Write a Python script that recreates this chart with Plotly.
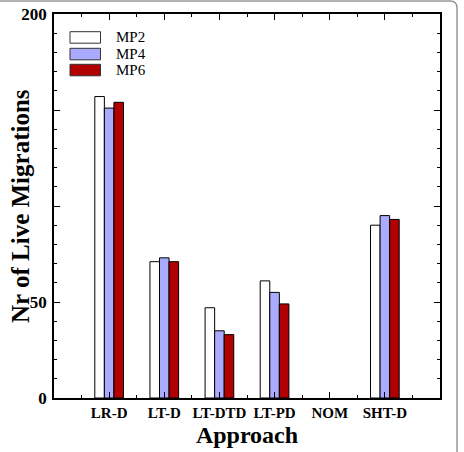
import plotly.graph_objects as go

categories = ["LR-D", "LT-D", "LT-DTD", "LT-PD", "NOM", "SHT-D"]
mp2 = [157, 71, 47, 61, 0, 90]
mp4 = [151, 73, 35, 55, 0, 95]
mp6 = [154, 71, 33, 49, 0, 93]
series_names = ["MP2", "MP4", "MP6"]
series_colors = ["#ffffff", "#aaaaff", "#b00000"]
y_tickvals = [0, 50, 100, 150, 200]
y_ticktext = ["0", "50", "", "", "200"]

W, H = 464, 452
ML, MR, MT, MB = 54, 24, 14, 54
PW, PH = W - ML - MR, H - MT - MB
FONT = "Liberation Serif"


def px(x):
    return (x - ML) / PW


def py(y):
    return (H - MB - y) / PH


xpos = list(range(len(categories)))
fig = go.Figure()
for name, vals, col in zip(series_names, [mp2, mp4, mp6], series_colors):
    fig.add_trace(go.Bar(x=xpos, y=vals, name=name,
                         marker=dict(color=col, line=dict(color="black", width=[1 if v > 0 else 0 for v in vals])),
                         showlegend=False))

fig.update_layout(
    width=W, height=H,
    margin=dict(l=ML, r=MR, t=MT, b=MB),
    paper_bgcolor="white", plot_bgcolor="white",
    barmode="group", bargap=0.48, bargroupgap=0,
    font=dict(family=FONT, color="black"),
)
fig.update_xaxes(
    range=[-1, len(categories)], tickvals=xpos, ticktext=categories,
    tickfont=dict(size=15, weight="bold", family=FONT),
    ticks="inside", ticklen=6, tickwidth=1, tickcolor="black",
    minor=dict(tickvals=[i - 0.5 for i in range(len(categories) + 1)], ticks="inside", ticklen=3,
               tickwidth=1, tickcolor="black"),
    showline=True, linecolor="black", linewidth=1.5, mirror="allticks", showgrid=False, zeroline=False,
    title=dict(text="Approach", font=dict(size=24, weight="bold", family=FONT), standoff=6),
    automargin=False,
)
fig.update_yaxes(
    range=[0, 200], tickvals=y_tickvals, ticktext=y_ticktext,
    tickfont=dict(size=17, weight="bold", family=FONT),
    ticks="inside", ticklen=6, tickwidth=1, tickcolor="black",
    minor=dict(dtick=10, ticks="inside", ticklen=3.5, tickwidth=1, tickcolor="black"),
    showline=True, linecolor="black", linewidth=1.5, mirror="allticks", showgrid=False, zeroline=False,
    ticklabelstandoff=2, automargin=False,
)

# Y title
fig.add_annotation(text="<b>Nr of Live Migrations</b>", textangle=-90, xref="paper", yref="paper",
                   x=px(20), y=0.5, xanchor="center", yanchor="middle", showarrow=False,
                   font=dict(size=25, family=FONT))

# Manual legend
sw_tops = [31.7, 48.3, 64.3]
for name, col, top in zip(series_names, series_colors, sw_tops):
    fig.add_shape(type="rect", xref="paper", yref="paper", x0=px(70), x1=px(100.5), y0=py(top), y1=py(top + 11.5),
                  fillcolor=col, line=dict(color="#333333", width=1))
    fig.add_annotation(text=name, xref="paper", yref="paper", x=px(114), y=py(top + 5.75),
                       xanchor="left", yanchor="middle", showarrow=False, font=dict(size=15, family=FONT))

# outer frame (top and right edge with rounded corner)
path = (f"M {px(0)},{py(1)} L {px(450)},{py(1)} Q {px(457)},{py(1)} {px(457)},{py(8)} "
        f"L {px(457)},{py(452)}")
fig.add_shape(type="path", xref="paper", yref="paper", path=path, line=dict(color="#999999", width=1.5))

fig.write_html("out.html")
